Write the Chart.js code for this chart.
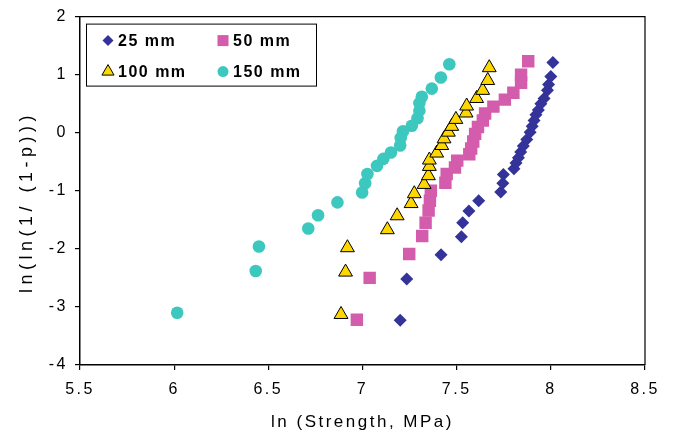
<!DOCTYPE html>
<html lang="en">
  <head>
    <meta charset="UTF-8" />
    <title>Weibull plot</title>
    <script src="https://cdn.jsdelivr.net/npm/chart.js"></script>
    <style>
      html,
      body {
        margin: 0;
        padding: 0;
        background: #fff;
      }
      .chart-box {
        position: relative;
        width: 675px;
        height: 434px;
      }
    </style>
  </head>
  <body>
    <div class="chart-box">
      <canvas id="weibullChart"></canvas>
    </div>

    <script>
      // ln(strength) / ln(ln(1/(1-p))), one pair of arrays per size
      const x25 = [7.2, 7.235, 7.417, 7.525, 7.532, 7.565, 7.617, 7.734, 7.745, 7.748, 7.804, 7.815, 7.828, 7.84, 7.854, 7.872, 7.89, 7.901, 7.911, 7.921, 7.934, 7.947, 7.964, 7.982, 7.988, 8.0, 8.011];
      const y25 = [-3.23, -2.52, -2.1, -1.79, -1.55, -1.35, -1.17, -1.02, -0.87, -0.72, -0.62, -0.52, -0.43, -0.33, -0.23, -0.115, 0.01, 0.11, 0.21, 0.31, 0.39, 0.5, 0.59, 0.73, 0.83, 0.97, 1.21];

      const x50 = [6.97, 7.038, 7.248, 7.317, 7.335, 7.351, 7.358, 7.363, 7.44, 7.447, 7.491, 7.503, 7.567, 7.577, 7.588, 7.598, 7.613, 7.639, 7.651, 7.695, 7.756, 7.801, 7.842, 7.842, 7.88];
      const y50 = [-3.22, -2.5, -2.09, -1.78, -1.55, -1.34, -1.17, -1.0, -0.86, -0.71, -0.6, -0.48, -0.37, -0.27, -0.15, -0.02, 0.1, 0.21, 0.33, 0.45, 0.57, 0.69, 0.86, 1.0, 1.23];

      const x100 = [6.886, 6.91, 6.92, 7.132, 7.184, 7.258, 7.275, 7.327, 7.35, 7.355, 7.355, 7.394, 7.421, 7.433, 7.456, 7.474, 7.496, 7.55, 7.553, 7.606, 7.638, 7.665, 7.673];
      const y100 = [-3.13, -2.4, -1.98, -1.67, -1.43, -1.22, -1.05, -0.89, -0.74, -0.58, -0.47, -0.35, -0.22, -0.105, 0.01, 0.11, 0.23, 0.34, 0.46, 0.59, 0.73, 0.9, 1.12];

      const x150 = [6.016, 6.433, 6.45, 6.712, 6.764, 6.867, 6.998, 7.014, 7.026, 7.077, 7.111, 7.151, 7.2, 7.203, 7.215, 7.262, 7.292, 7.302, 7.302, 7.315, 7.368, 7.416, 7.461];
      const y150 = [-3.1, -2.38, -1.96, -1.65, -1.42, -1.2, -1.03, -0.87, -0.71, -0.57, -0.45, -0.34, -0.22, -0.09, 0.025, 0.12, 0.25, 0.38, 0.51, 0.62, 0.76, 0.95, 1.18];

      const seriesLabels = ["25 mm", "50 mm", "100 mm", "150 mm"];
      const xTicks = [5.5, 6, 6.5, 7, 7.5, 8, 8.5];
      const yTicks = [-4, -3, -2, -1, 0, 1, 2];

      const pairs = (xs, ys) => xs.map((x, i) => ({ x: x, y: ys[i] }));

      const FONT = '"Liberation Sans", Arial, sans-serif';

      // small marker painter used for the legend swatches
      function marker(ctx, style, x, y, r) {
        ctx.beginPath();
        if (style === "rectRot") {
          ctx.moveTo(x - r, y);
          ctx.lineTo(x, y - r);
          ctx.lineTo(x + r, y);
          ctx.lineTo(x, y + r);
        } else if (style === "rect") {
          ctx.rect(x - r, y - r, 2 * r, 2 * r);
        } else if (style === "triangle") {
          ctx.moveTo(x, y - r);
          ctx.lineTo(x + r * 0.866, y + r * 0.5);
          ctx.lineTo(x - r * 0.866, y + r * 0.5);
        } else {
          ctx.arc(x, y, r, 0, Math.PI * 2);
        }
        ctx.closePath();
      }

      const legendSizes = [5.5, 5.5, 7, 5.5];

      const excelLook = {
        id: "excelLook",
        beforeUpdate(chart) {
          chart.ctx.letterSpacing = "2.5px";
        },
        beforeDraw(chart) {
          chart.ctx.letterSpacing = "2.5px";
        },
        afterDraw(chart) {
          const { ctx, chartArea: a } = chart;
          ctx.save();

          // top and right frame
          ctx.strokeStyle = "#000";
          ctx.lineWidth = 1.2;
          ctx.beginPath();
          ctx.moveTo(a.left, a.top);
          ctx.lineTo(a.right, a.top);
          ctx.lineTo(a.right, a.bottom);
          ctx.stroke();

          // y axis title, sits a bit below the middle like the original
          ctx.letterSpacing = "4.5px";
          ctx.font = "18px " + FONT;
          ctx.fillStyle = "#000";
          ctx.textAlign = "center";
          ctx.textBaseline = "middle";
          ctx.translate(27, 202);
          ctx.rotate(-Math.PI / 2);
          ctx.fillText("ln(ln(1/ (1-p)))", 0, 0);
          ctx.setTransform(1, 0, 0, 1, 0, 0);

          // legend box in the top left corner of the plot
          const bx = a.left + 6,
            by = a.top + 7;
          ctx.fillStyle = "#fff";
          ctx.fillRect(bx, by, 230, 62);
          ctx.lineWidth = 1;
          ctx.strokeRect(bx + 0.5, by + 0.5, 230, 62);

          ctx.letterSpacing = "1.5px";
          ctx.font = "bold 16px " + FONT;
          ctx.textAlign = "left";
          chart.data.datasets.forEach((ds, i) => {
            const mx = bx + 22 + (i % 2) * 115;
            const my = by + 17 + Math.floor(i / 2) * 31;
            marker(ctx, ds.pointStyle, mx, my, legendSizes[i]);
            ctx.fillStyle = ds.backgroundColor;
            ctx.fill();
            if (ds.borderWidth) {
              ctx.strokeStyle = ds.borderColor;
              ctx.lineWidth = ds.borderWidth;
              ctx.stroke();
            }
            ctx.fillStyle = "#000";
            ctx.fillText(ds.label, mx + 10, my + 1);
          });
          ctx.restore();
        },
      };

      const ctx = document.getElementById("weibullChart").getContext("2d");
      new Chart(ctx, {
        type: "scatter",
        data: {
          datasets: [
            {
              label: seriesLabels[0],
              data: pairs(x25, y25),
              pointStyle: "rectRot",
              pointRadius: 6.5,
              backgroundColor: "#333399",
              borderColor: "#333399",
              borderWidth: 0,
              order: 3,
            },
            {
              label: seriesLabels[1],
              data: pairs(x50, y50),
              pointStyle: "rect",
              pointRadius: 8.8,
              backgroundColor: "#d35dac",
              borderColor: "#d35dac",
              borderWidth: 0,
              order: 2,
            },
            {
              label: seriesLabels[2],
              data: pairs(x100, y100),
              pointStyle: "triangle",
              pointRadius: 8,
              backgroundColor: "#ffd700",
              borderColor: "#000",
              borderWidth: 1,
              order: 1,
            },
            {
              label: seriesLabels[3],
              data: pairs(x150, y150),
              pointStyle: "circle",
              pointRadius: 6.3,
              backgroundColor: "#3cc8be",
              borderColor: "#3cc8be",
              borderWidth: 0,
              order: 0,
            },
          ],
        },
        options: {
          responsive: true,
          maintainAspectRatio: false,
          animation: false,
          layout: {
            padding: { left: 8, right: 30, top: 13, bottom: 0 },
          },
          plugins: {
            legend: { display: false },
            tooltip: { enabled: false },
          },
          scales: {
            x: {
              type: "linear",
              min: 5.5,
              max: 8.5,
              afterBuildTicks: (s) => {
                s.ticks = xTicks.map((v) => ({ value: v }));
              },
              ticks: {
                color: "#000",
                font: { family: FONT, size: 16 },
                padding: 10,
                callback: (v) => String(v),
              },
              grid: {
                drawOnChartArea: false,
                drawTicks: true,
                tickLength: 5,
                color: "#000",
                lineWidth: 1.2,
              },
              border: { color: "#000", width: 1.5 },
              title: {
                display: true,
                text: "ln (Strength, MPa)",
                color: "#000",
                font: { family: FONT, size: 17 },
                padding: { top: 2, bottom: 1 },
              },
              afterFit: (s) => {
                s.height = 69;
              },
            },
            y: {
              type: "linear",
              min: -4,
              max: 2,
              afterBuildTicks: (s) => {
                s.ticks = yTicks.map((v) => ({ value: v }));
              },
              ticks: {
                color: "#000",
                font: { family: FONT, size: 16 },
                padding: 7,
                callback: (v) => String(v),
              },
              grid: {
                drawOnChartArea: false,
                drawTicks: true,
                tickLength: 5,
                color: "#000",
                lineWidth: 1.2,
              },
              border: { color: "#000", width: 1.5 },
              afterFit: (s) => {
                s.width = 72;
              },
            },
          },
        },
        plugins: [excelLook],
      });
    </script>
  </body>
</html>
